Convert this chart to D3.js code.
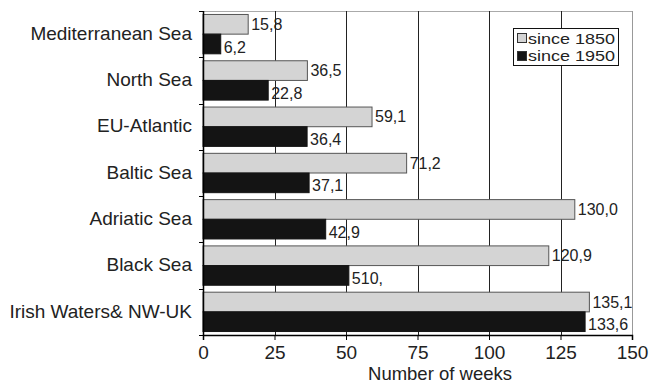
<!DOCTYPE html>
<html><head><meta charset="utf-8">
<script src="https://cdn.jsdelivr.net/npm/d3@7"></script>
<style>body{margin:0;background:#fff}svg{display:block;font-family:"Liberation Sans",Arial,sans-serif}</style>
</head><body><svg id="c" width="652" height="384"></svg>
<script>
const categories = ["Mediterranean Sea","North Sea","EU-Atlantic","Baltic Sea","Adriatic Sea","Black Sea","Irish Waters& NW-UK"];
const since1850 = [15.8,36.5,59.1,71.2,130.0,120.9,135.1];
const since1950 = [6.2,22.8,36.4,37.1,42.9,51.0,133.6];
const labels1850 = ["15,8","36,5","59,1","71,2","130,0","120,9","135,1"];
const labels1950 = ["6,2","22,8","36,4","37,1","42,9","510,","133,6"];
const xTicks = [0,25,50,75,100,125,150];
const seriesNames = ["since 1850","since 1950"];
const colors = ["#d4d4d4","#141414"];

const svg = d3.select("#c");
const L=203,R=632,T=11,B=335;
const x = d3.scaleLinear().domain([0,150]).range([L,R]);
const y = d3.scaleBand().domain(categories).range([T,B]).padding(0);
const sub = d3.scaleBand().domain([0,1]).range([y.bandwidth()*0.075, y.bandwidth()*0.925]).padding(0);

// frame top & right
svg.append("line").attr("x1",L).attr("x2",R+0.5).attr("y1",T+0.5).attr("y2",T+0.5).attr("stroke","#aaa");
svg.append("line").attr("x1",R+0.5).attr("x2",R+0.5).attr("y1",T).attr("y2",B).attr("stroke","#999");

const data = categories.map((c,i)=>({c, v:[since1850[i],since1950[i]], l:[labels1850[i],labels1950[i]]}));

// value labels
const g = svg.append("g");
data.forEach(d=>{
  [0,1].forEach(s=>{
    g.append("text").attr("x",x(d.v[s])+3).attr("y",y(d.c)+sub(s)+sub.bandwidth()/2+ (s?3:0))
      .attr("dy","0.35em").attr("font-size",16).attr("fill","#222").text(d.l[s]);
  });
});

// gridlines
svg.append("g").selectAll("line").data(xTicks.slice(1,-1)).join("line")
  .attr("x1",d=>Math.round(x(d))+0.5).attr("x2",d=>Math.round(x(d))+0.5).attr("y1",T).attr("y2",B)
  .attr("stroke","#222").attr("stroke-width",1);

// bars
data.forEach(d=>{
  [0,1].forEach(s=>{
    svg.append("rect").attr("x",x(0)).attr("y",y(d.c)+sub(s)).attr("width",x(d.v[s])-x(0)).attr("height",sub.bandwidth())
      .attr("fill",colors[s]).attr("stroke",s?"#141414":"#555").attr("stroke-width",1);
  });
});

// left axis
svg.append("line").attr("x1",L+0.5).attr("x2",L+0.5).attr("y1",T).attr("y2",B).attr("stroke","#000").attr("stroke-width",1.5);
const bounds = categories.map(c=>y(c)).concat([y.range()[1]]);
svg.append("g").selectAll("line").data(bounds).join("line")
  .attr("x1",L-4).attr("x2",L).attr("y1",d=>Math.round(d)+0.5).attr("y2",d=>Math.round(d)+0.5).attr("stroke","#000");
svg.append("g").selectAll("text").data(categories).join("text")
  .attr("x",192).attr("y",d=>y(d)+y.bandwidth()/2-1).attr("dy","0.35em").attr("text-anchor","end")
  .attr("font-size",19).attr("fill","#222").text(d=>d);

// bottom axis
const xa = svg.append("g").attr("transform",`translate(0,${B})`)
  .call(d3.axisBottom(x).tickValues(xTicks).tickSize(5).tickPadding(6).tickFormat(d3.format("d")));
xa.select(".domain").attr("stroke","#000").attr("stroke-width",1.5);
xa.selectAll(".tick line").attr("stroke","#000");
xa.selectAll("text").attr("font-size",19).attr("fill","#222").attr("font-family","Liberation Sans, Arial, sans-serif");
svg.append("text").attr("x",440).attr("y",380).attr("text-anchor","middle").attr("font-size",18.5).attr("fill","#222").text("Number of weeks");

// legend
const lg = svg.append("g").attr("transform","translate(513,28)");
lg.append("rect").attr("x",0.5).attr("y",0.5).attr("width",105).attr("height",37).attr("fill","#fff").attr("stroke","#111");
seriesNames.forEach((n,i)=>{
  lg.append("rect").attr("x",4.5).attr("y",5.5+i*18).attr("width",9).attr("height",9).attr("fill",colors[i]).attr("stroke","#333");
  lg.append("text").attr("x",15).attr("y",10.5+i*17.5).attr("dy","0.35em").attr("font-size",15)
    .attr("textLength",87).attr("lengthAdjust","spacingAndGlyphs").attr("fill","#222").text(n);
});
</script></body></html>
